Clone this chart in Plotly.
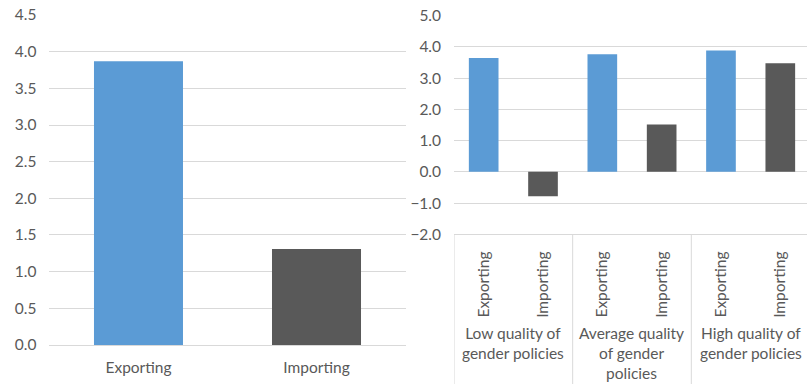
import plotly.graph_objects as go

# Overall comparison
flow_labels = ["Exporting", "Importing"]
overall_values = [3.87, 1.31]

# Split by quality of gender policies
group_labels = ["Low quality of<br>gender policies",
                "Average quality<br>of gender<br>policies",
                "High quality of<br>gender policies"]
exporting_values = [3.65, 3.77, 3.89]
importing_values = [-0.78, 1.52, 3.48]

left_ticks = [0.0, 0.5, 1.0, 1.5, 2.0, 2.5, 3.0, 3.5, 4.0, 4.5]
right_ticks = [-2.0, -1.0, 0.0, 1.0, 2.0, 3.0, 4.0, 5.0]

BLUE = "#5B9BD5"
DARK = "#595959"
GRID = "#D9D9D9"
TEXT = "#595959"
FONT = "Lato"
FS = 15.5

fig = go.Figure()

# Left panel
fig.add_trace(go.Bar(
    x=flow_labels, y=overall_values,
    marker=dict(color=[BLUE, DARK], line=dict(width=0)),
    width=0.5, xaxis="x", yaxis="y", showlegend=False,
))

# Right panel: positions 0..5, exporting/importing alternate within each group
n = len(group_labels)
exp_x = [2 * i for i in range(n)]
imp_x = [2 * i + 1 for i in range(n)]
fig.add_trace(go.Bar(
    x=exp_x, y=exporting_values, marker=dict(color=BLUE, line=dict(width=0)),
    width=0.5, xaxis="x2", yaxis="y2", showlegend=False,
))
fig.add_trace(go.Bar(
    x=imp_x, y=importing_values, marker=dict(color=DARK, line=dict(width=0)),
    width=0.5, xaxis="x2", yaxis="y2", showlegend=False,
))

tick_pos = sorted(exp_x + imp_x)
tick_text = [flow_labels[p % 2] for p in tick_pos]

fig.update_layout(
    width=807, height=384,
    margin=dict(l=0, r=0, t=0, b=0, autoexpand=False),
    paper_bgcolor="white", plot_bgcolor="white",
    font=dict(family=FONT, size=FS, color=TEXT),
    bargap=0.5,
    xaxis=dict(domain=[0.0613, 0.5025], showgrid=False, showline=True,
               linecolor=GRID, linewidth=1, ticks="", ticklabelstandoff=8,
               automargin=False, anchor="y"),
    yaxis=dict(domain=[0.1016, 0.9609], range=[0, 4.5], tickvals=left_ticks,
               tickformat=".1f", showgrid=True, gridcolor=GRID, gridwidth=1,
               zeroline=False, showline=False, ticks="", ticklabelstandoff=12,
               automargin=False, anchor="x"),
    xaxis2=dict(domain=[0.5626, 1.0], range=[-0.5, 5.45], tickvals=tick_pos,
                ticktext=tick_text, tickangle=-90, showgrid=False,
                showline=True, linecolor=GRID, linewidth=1, ticks="",
                ticklabelstandoff=10, automargin=False, anchor="y2"),
    yaxis2=dict(domain=[0.3898, 0.959], range=[-2, 5], tickvals=right_ticks,
                tickformat=".1f", showgrid=True, gridcolor=GRID, gridwidth=1,
                zeroline=False, showline=False, ticks="", ticklabelstandoff=12,
                automargin=False, anchor="x2"),
)

# Group separators below the right panel
for xb in [-0.5, 1.5, 3.5]:
    fig.add_shape(type="line", xref="x2", yref="paper", x0=xb, x1=xb,
                  y0=0, y1=0.3898, line=dict(color=GRID, width=1))

# Group captions
for i, lab in enumerate(group_labels):
    fig.add_annotation(x=2 * i + 0.5, xref="x2", y=0.162, yref="paper",
                       yanchor="top", xanchor="center", text=lab,
                       showarrow=False, align="center",
                       font=dict(family=FONT, size=FS, color=TEXT))

fig.write_html("out.html")
